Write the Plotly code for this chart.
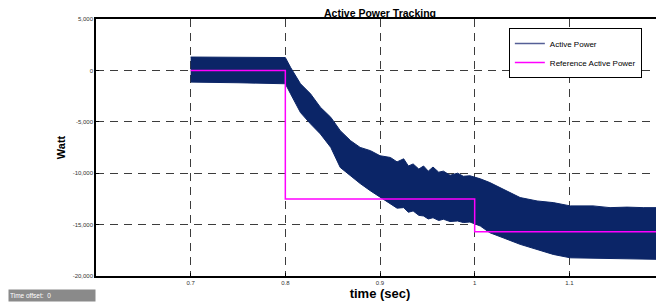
import plotly.graph_objects as go

# ---- data ----
# Active power: envelope of the fast-oscillating signal (upper / lower)
t_env = [0.700, 0.750, 0.800, 0.8055, 0.816, 0.8266, 0.837, 0.848, 0.858, 0.869,
         0.879, 0.890, 0.900, 0.911, 0.918, 0.925, 0.930, 0.935, 0.941, 0.946,
         0.951, 0.956, 0.962, 0.967, 0.974, 0.982, 0.988, 0.995, 1.006, 1.016,
         1.030, 1.048, 1.066, 1.083, 1.101, 1.125, 1.143, 1.161, 1.178, 1.200]
p_upper = [1300, 1250, 1250, 300, -1300, -2275, -3580, -4560, -5860, -6840,
           -7490, -7810, -8300, -8470, -8900, -8600, -9300, -9100, -9600, -9300,
           -9800, -9400, -9900, -9800, -10200, -10000, -10300, -10250, -10550, -10910,
           -11520, -12370, -12700, -12860, -13180, -13180, -13350, -13300, -13350, -13350]
p_lower = [-1140, -1200, -1300, -2275, -4100, -5200, -6180, -7490, -9440, -10250,
           -11000, -11720, -12370, -12990, -13400, -13350, -13800, -13670, -14100, -14160,
           -14450, -14330, -14600, -14480, -14700, -14650, -14800, -14750, -15140, -15790,
           -16280, -16920, -17410, -17900, -18230, -18230, -18250, -18290, -18350, -18390]

# Reference active power (step changes)
t_ref = [0.7, 0.8, 1.0, 1.2]
p_ref = [0, -12500, -15700, -15700]

x_ticks = [0.7, 0.8, 0.9, 1.0, 1.1, 1.2]
x_tick_labels = ["0.7", "0.8", "0.9", "1", "1.1", "1.2"]
y_ticks = [5000, 0, -5000, -10000, -15000, -20000]
y_tick_labels = ["5,000", "0", "-5,000", "-10,000", "-15,000", "-20,000"]

NAVY = "rgb(11,37,103)"
MAGENTA = "rgb(255,0,255)"

fig = go.Figure()

# filled band of active power
fig.add_trace(go.Scatter(
    x=t_env + t_env[::-1], y=p_upper + p_lower[::-1],
    mode="lines", fill="toself", fillcolor=NAVY,
    line=dict(color=NAVY, width=1), showlegend=False, hoverinfo="skip"))

# legend-only entry for active power
fig.add_trace(go.Scatter(x=[None], y=[None], mode="lines", name="Active Power",
                         line=dict(color="rgb(85,95,150)", width=1.5)))

fig.add_trace(go.Scatter(x=t_ref, y=p_ref, mode="lines", line_shape="hv",
                         name="Reference Active Power",
                         line=dict(color=MAGENTA, width=1.5)))

grid = dict(showgrid=True, gridcolor="rgb(60,60,60)", gridwidth=1, griddash="8px,6px")

fig.update_layout(
    width=664, height=304,
    margin=dict(l=88, r=8, t=11, b=36, autoexpand=False),
    paper_bgcolor="white", plot_bgcolor="white",
    font=dict(family="Liberation Sans, Arial, sans-serif", color="black"),
    title=dict(text="<b>Active Power Tracking</b>", x=372 / 664, xref="container", xanchor="center",
               y=1 - 5 / 304, yref="container", yanchor="middle", font=dict(size=10.5)),
    showlegend=True,
    legend=dict(x=0.961, y=0.965, xanchor="right", yanchor="top",
                bgcolor="white", bordercolor="black", borderwidth=1,
                font=dict(family="Liberation Sans Narrow, Arial Narrow, Liberation Sans", size=8),
                itemwidth=30, tracegroupgap=0),
    xaxis=dict(range=[0.6, 1.2], tickvals=x_ticks, ticktext=x_tick_labels,
               tickfont=dict(size=6, color="#333"), ticks="inside", ticklen=3,
               tickcolor="black", showline=True, linecolor="black", linewidth=1.5,
               mirror=True, zeroline=False,
               title=dict(text="<b>time (sec)</b>", font=dict(size=13), standoff=0),
               **grid),
    yaxis=dict(range=[-20000, 5000], tickvals=y_ticks, ticktext=y_tick_labels,
               tickfont=dict(size=6, color="#333"), ticks="inside", ticklen=3,
               tickcolor="black", showline=True, linecolor="black", linewidth=1.5,
               zeroline=False,
               title=dict(text="<b>Watt</b>", font=dict(size=11), standoff=5),
               **grid),
)

fig.add_annotation(xref="paper", yref="paper", x=-0.155, y=-0.076,
                   xanchor="left", yanchor="middle",
                   text="Time offset:  0", showarrow=False,
                   bgcolor="rgb(138,138,138)", width=84, height=9, align="left",
                   borderpad=1, font=dict(size=6.5, color="white"))

fig.write_html("out.html")
